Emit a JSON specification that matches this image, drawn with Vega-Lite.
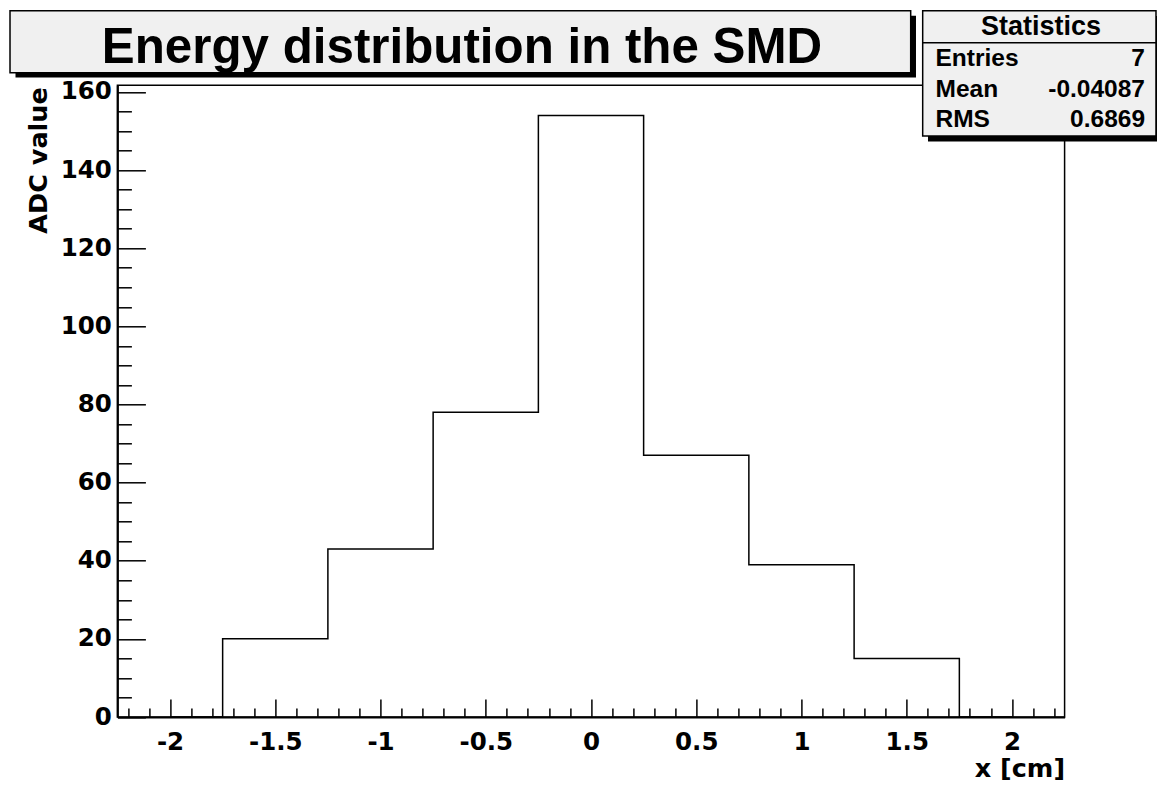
{
  "$schema": "https://vega.github.io/schema/vega-lite/v6.json",
  "width": 947.2,
  "height": 631.7,
  "autosize": {"type": "none"},
  "padding": {"left": 117.4, "top": 85.3, "right": 92.4, "bottom": 70},
  "background": "white",
  "config": {
    "view": {"stroke": "black", "strokeWidth": 1.5},
    "axis": {
      "grid": false,
      "domainColor": "black",
      "tickColor": "black",
      "labelColor": "black",
      "titleColor": "black",
      "labelFont": "DejaVu Sans",
      "labelFontWeight": "bold",
      "labelFontSize": 24.5,
      "titleFont": "DejaVu Sans",
      "titleFontWeight": "bold"
    }
  },
  "datasets": {
    "hist": [
      {"x": -2.0, "adc": 0},
      {"x": -1.5, "adc": 20},
      {"x": -1.0, "adc": 43},
      {"x": -0.5, "adc": 78},
      {"x": 0.0, "adc": 154},
      {"x": 0.5, "adc": 67},
      {"x": 1.0, "adc": 39},
      {"x": 1.5, "adc": 15},
      {"x": 2.0, "adc": 0}
    ],
    "stats": [
      {"name": "Entries", "value": "7"},
      {"name": "Mean", "value": "-0.04087"},
      {"name": "RMS", "value": "0.6869"}
    ],
    "one": [{}]
  },
  "resolve": {"scale": {"x": "shared", "y": "shared"}, "axis": {"x": "independent", "y": "independent"}},
  "layer": [
    {
      "data": {"name": "hist"},
      "mark": {"type": "point", "opacity": 0},
      "encoding": {
        "x": {"field": "x", "type": "quantitative", "scale": {"domain": [-2.25, 2.25], "nice": false, "zero": false},
          "axis": {"orient": "bottom", "values": [-2.2,-2.1,-1.9,-1.8,-1.7,-1.6,-1.4,-1.3,-1.2,-1.1,-0.9,-0.8,-0.7,-0.6,-0.4,-0.3,-0.2,-0.1,0.1,0.2,0.3,0.4,0.6,0.7,0.8,0.9,1.1,1.2,1.3,1.4,1.6,1.7,1.8,1.9,2.1,2.2],
            "tickSize": -9, "tickWidth": 1.5, "labels": false, "domain": false, "title": null}},
        "y": {"field": "adc", "type": "quantitative", "scale": {"domain": [0, 161.7], "nice": false},
          "axis": {"orient": "left", "values": [5,10,15,25,30,35,45,50,55,65,70,75,85,90,95,105,110,115,125,130,135,145,150,155],
            "tickSize": -14, "tickWidth": 1.5, "labels": false, "domain": false, "title": null}}
      }
    },
    {
      "data": {"name": "hist"},
      "mark": {"type": "point", "opacity": 0},
      "encoding": {
        "x": {"field": "x", "type": "quantitative",
          "axis": {"orient": "bottom", "values": [-2,-1.5,-1,-0.5,0,0.5,1,1.5,2], "tickSize": -18, "tickWidth": 1.5, "labels": false, "domain": false, "title": null}},
        "y": {"field": "adc", "type": "quantitative",
          "axis": {"orient": "left", "values": [0,20,40,60,80,100,120,140,160], "tickSize": -28, "tickWidth": 1.5, "labels": false, "domain": false, "title": null}}
      }
    },
    {
      "data": {"name": "hist"},
      "mark": {"type": "line", "interpolate": "step", "color": "black", "strokeWidth": 1.5},
      "encoding": {
        "x": {"field": "x", "type": "quantitative",
          "axis": {"orient": "bottom", "values": [-2,-1.5,-1,-0.5,0,0.5,1,1.5,2], "ticks": false, "domainWidth": 2, "labelPadding": 13,
            "labelExpr": "'' + datum.value", "labelFlush": false, "labelOverlap": false,
            "title": "x [cm]", "titleFontSize": 25.5, "titleX": 947.2, "titleY": 59, "titleAlign": "right", "titleAnchor": null, "titleBaseline": "alphabetic"}},
        "y": {"field": "adc", "type": "quantitative",
          "axis": {"orient": "left", "values": [0,20,40,60,80,100,120,140,160], "ticks": false, "domainWidth": 2, "labelPadding": 6,
            "labelExpr": "'' + datum.value", "labelFlush": false, "labelOverlap": false,
            "title": "ADC value", "titleFontSize": 25.5, "titleAngle": 270, "titleX": -70.7, "titleY": 1.4, "titleAlign": "right", "titleAnchor": null, "titleBaseline": "alphabetic"}}
      }
    },
    {
      "data": {"name": "one"},
      "mark": {"type": "rect", "fill": "black"},
      "encoding": {
        "x": {"datum": -2.7341, "type": "quantitative", "axis": null},
        "x2": {"datum": 1.544},
        "y": {"datum": 179.52, "type": "quantitative", "axis": null},
        "y2": {"datum": 163.70}
      }
    },
    {
      "data": {"name": "one"},
      "mark": {"type": "rect", "fill": "#f0f0f0", "stroke": "black", "strokeWidth": 1.5},
      "encoding": {
        "x": {"datum": -2.7602, "type": "quantitative", "axis": null},
        "x2": {"datum": 1.5188},
        "y": {"datum": 180.80, "type": "quantitative", "axis": null},
        "y2": {"datum": 164.93}
      }
    },
    {
      "data": {"name": "one"},
      "mark": {"type": "text", "text": "Energy distribution in the SMD", "font": "Liberation Sans", "fontWeight": "bold", "fontSize": 49.3, "align": "center", "baseline": "alphabetic", "color": "black"},
      "encoding": {
        "x": {"datum": -0.6129, "type": "quantitative", "axis": null},
        "y": {"datum": 167.33, "type": "quantitative", "axis": null}
      }
    },
    {
      "data": {"name": "one"},
      "mark": {"type": "rect", "fill": "black"},
      "encoding": {
        "x": {"datum": 1.6010, "type": "quantitative", "axis": null},
        "x2": {"datum": 2.7127},
        "y": {"datum": 179.44, "type": "quantitative", "axis": null},
        "y2": {"datum": 147.31}
      }
    },
    {
      "data": {"name": "one"},
      "mark": {"type": "rect", "fill": "#f0f0f0", "stroke": "black", "strokeWidth": 1.5},
      "encoding": {
        "x": {"datum": 1.5758, "type": "quantitative", "axis": null},
        "x2": {"datum": 2.6842},
        "y": {"datum": 180.80, "type": "quantitative", "axis": null},
        "y2": {"datum": 148.72}
      }
    },
    {
      "data": {"name": "one"},
      "mark": {"type": "rule", "color": "black", "strokeWidth": 1.5},
      "encoding": {
        "x": {"datum": 1.5758, "type": "quantitative", "axis": null},
        "x2": {"datum": 2.6842},
        "y": {"datum": 172.61, "type": "quantitative", "axis": null}
      }
    },
    {
      "data": {"name": "one"},
      "mark": {"type": "text", "text": "Statistics", "font": "Liberation Sans", "fontWeight": "bold", "fontSize": 27, "align": "center", "baseline": "alphabetic", "color": "black"},
      "encoding": {
        "x": {"datum": 2.1379, "type": "quantitative", "axis": null},
        "y": {"datum": 174.58, "type": "quantitative", "axis": null}
      }
    },
    {
      "data": {"name": "stats"},
      "transform": [{"filter": "datum.name === 'Entries'"}],
      "layer": [
        {"mark": {"type": "text", "font": "Liberation Sans", "fontWeight": "bold", "fontSize": 24.5, "align": "left", "baseline": "alphabetic", "color": "black"},
         "encoding": {"text": {"field": "name"}, "x": {"datum": 1.6367, "type": "quantitative", "axis": null}, "y": {"datum": 166.64, "type": "quantitative", "axis": null}}},
        {"mark": {"type": "text", "font": "Liberation Sans", "fontWeight": "bold", "fontSize": 24.5, "align": "right", "baseline": "alphabetic", "color": "black"},
         "encoding": {"text": {"field": "value"}, "x": {"datum": 2.632, "type": "quantitative", "axis": null}, "y": {"datum": 166.64, "type": "quantitative", "axis": null}}}
      ]
    },
    {
      "data": {"name": "stats"},
      "transform": [{"filter": "datum.name === 'Mean'"}],
      "layer": [
        {"mark": {"type": "text", "font": "Liberation Sans", "fontWeight": "bold", "fontSize": 24.5, "align": "left", "baseline": "alphabetic", "color": "black"},
         "encoding": {"text": {"field": "name"}, "x": {"datum": 1.6367, "type": "quantitative", "axis": null}, "y": {"datum": 158.63, "type": "quantitative", "axis": null}}},
        {"mark": {"type": "text", "font": "Liberation Sans", "fontWeight": "bold", "fontSize": 24.5, "align": "right", "baseline": "alphabetic", "color": "black"},
         "encoding": {"text": {"field": "value"}, "x": {"datum": 2.632, "type": "quantitative", "axis": null}, "y": {"datum": 158.63, "type": "quantitative", "axis": null}}}
      ]
    },
    {
      "data": {"name": "stats"},
      "transform": [{"filter": "datum.name === 'RMS'"}],
      "layer": [
        {"mark": {"type": "text", "font": "Liberation Sans", "fontWeight": "bold", "fontSize": 24.5, "align": "left", "baseline": "alphabetic", "color": "black"},
         "encoding": {"text": {"field": "name"}, "x": {"datum": 1.6367, "type": "quantitative", "axis": null}, "y": {"datum": 151.10, "type": "quantitative", "axis": null}}},
        {"mark": {"type": "text", "font": "Liberation Sans", "fontWeight": "bold", "fontSize": 24.5, "align": "right", "baseline": "alphabetic", "color": "black"},
         "encoding": {"text": {"field": "value"}, "x": {"datum": 2.632, "type": "quantitative", "axis": null}, "y": {"datum": 151.10, "type": "quantitative", "axis": null}}}
      ]
    }
  ]
}
